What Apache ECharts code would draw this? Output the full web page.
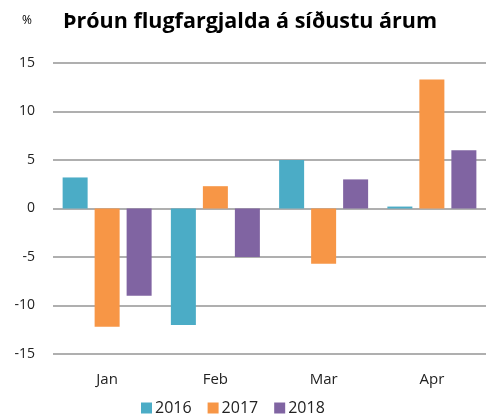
<!DOCTYPE html>
<html><head><meta charset="utf-8">
<script src="https://cdn.jsdelivr.net/npm/echarts@6/dist/echarts.min.js"></script>
<style>html,body{margin:0;padding:0;background:#fff}#c{width:489px;height:414px}</style>
</head><body><div id="c"></div>
<script>
const categories = ['Jan', 'Feb', 'Mar', 'Apr'];
const s2016 = [3.2, -12.0, 5.0, 0.2];
const s2017 = [-12.2, 2.3, -5.7, 13.3];
const s2018 = [-9.0, -5.0, 3.0, 6.0];
const seriesNames = ['2016', '2017', '2018'];
const colors = ['#4BACC6', '#F79646', '#8064A2'];
const font = 'Open Sans';
const chart = echarts.init(document.getElementById('c'));
const mk = (name, data, color) => ({
  name, type: 'bar', data, barWidth: 25, barGap: '28%',
  itemStyle: { color }
});
chart.setOption({
  animation: false,
  title: [{
    text: 'Þróun flugfargjalda á síðustu árum', left: 58, top: 6,
    textStyle: { fontFamily: font, fontWeight: 'bold', fontSize: 21.5, color: '#000' }
  }, {
    text: '%', left: 17, top: 10,
    textStyle: { fontFamily: font, fontWeight: 'normal', fontSize: 12, color: '#000' }
  }],
  legend: {
    data: seriesNames, left: 141, top: 400, itemWidth: 11, itemHeight: 11, itemGap: 16,
    icon: 'rect', padding: 0,
    textStyle: { fontFamily: font, fontSize: 16, color: '#222', padding: [0, 0, 0, -2] }
  },
  grid: { left: 53, right: 3, top: 63, bottom: 60, containLabel: false, outerBoundsMode: 'none' },
  xAxis: {
    type: 'category', data: categories,
    axisLine: { show: false }, axisTick: { show: false },
    axisLabel: { fontFamily: font, fontSize: 15, color: '#222', margin: 18 }
  },
  yAxis: {
    type: 'value', min: -15, max: 15, interval: 5,
    axisLine: { show: false }, axisTick: { show: false },
    axisLabel: { fontFamily: font, fontSize: 14, color: '#222', margin: 18 },
    splitLine: { lineStyle: { color: '#959595', width: 1.5 } }
  },
  series: [mk('2016', s2016, colors[0]), mk('2017', s2017, colors[1]), mk('2018', s2018, colors[2])]
});
</script></body></html>
